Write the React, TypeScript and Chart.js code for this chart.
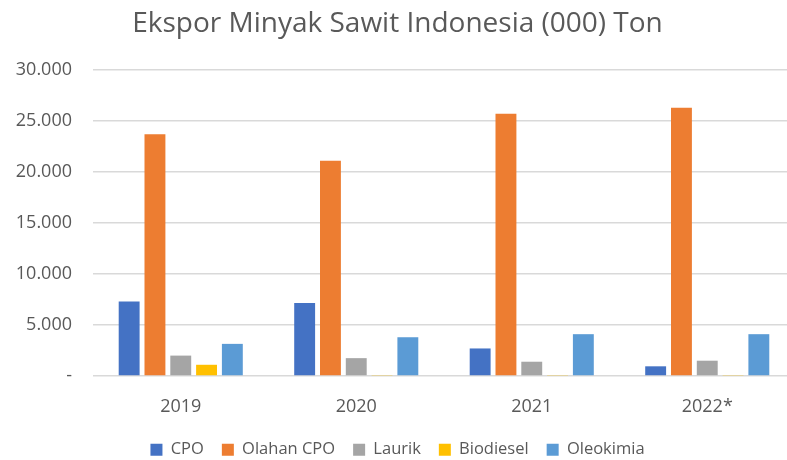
import React, { useEffect, useRef } from "react";
import { Chart, registerables } from "chart.js";

Chart.register(...registerables);

const categories = ["2019", "2020", "2021", "2022*"];
const cpo = [7300, 7150, 2700, 950];
const olahanCpo = [23700, 21100, 25700, 26300];
const laurik = [2000, 1750, 1400, 1500];
const biodiesel = [1100, 100, 100, 100];
const oleokimia = [3150, 3800, 4100, 4100];
const yTicks = [0, 5000, 10000, 15000, 20000, 25000, 30000];

const fmt = (v: number) => (v === 0 ? "-" : v.toLocaleString("de-DE"));

export default function App() {
  const ref = useRef<HTMLCanvasElement | null>(null);
  useEffect(() => {
    document.body.style.margin = "0";
    if (!ref.current) return;
    const font = "'Open Sans', 'Noto Sans', sans-serif";
    const chart = new Chart(ref.current, {
      type: "bar",
      data: {
        labels: categories,
        datasets: [
          { label: "CPO", data: cpo, backgroundColor: "#4472C4" },
          { label: "Olahan CPO", data: olahanCpo, backgroundColor: "#ED7D31" },
          { label: "Laurik", data: laurik, backgroundColor: "#A5A5A5" },
          { label: "Biodiesel", data: biodiesel, backgroundColor: "#FFC000" },
          { label: "Oleokimia", data: oleokimia, backgroundColor: "#5B9BD5" },
        ],
      },
      options: {
        animation: false,
        responsive: false,
        maintainAspectRatio: false,
        layout: { padding: 0 },
        datasets: { bar: { barPercentage: 0.81, categoryPercentage: 0.735 } },
        plugins: {
          title: {
            display: true,
            text: "Ekspor Minyak Sawit Indonesia (000) Ton",
            color: "#595959",
            font: { family: font, size: 28, weight: "normal" },
            padding: { top: 7, bottom: 29.4 },
          },
          legend: {
            position: "bottom",
            labels: {
              boxWidth: 12,
              boxHeight: 12,
              padding: 18,
              color: "#595959",
              font: { family: font, size: 16.5 },
            },
          },
          tooltip: { enabled: false },
        },
        scales: {
          x: {
            afterFit: (s: any) => {
              s.height = 47.5;
            },
            grid: { display: false },
            border: { display: false },
            ticks: { color: "#595959", font: { family: font, size: 18 }, padding: 12 },
          },
          y: {
            min: 0,
            max: 30000,
            afterFit: (s: any) => {
              s.width = 93;
            },
            afterBuildTicks: (s: any) => {
              s.ticks = yTicks.map((v) => ({ value: v }));
            },
            grid: { color: "#D9D9D9", drawTicks: false, lineWidth: 1.5 },
            border: { display: false },
            ticks: {
              color: "#595959",
              font: { family: font, size: 18 },
              padding: 21,
              callback: (v: any) => fmt(Number(v)),
            },
          },
        },
      },
    });
    return () => chart.destroy();
  }, []);
  return (
    <div style={{ position: "absolute", left: 0, top: 0, width: 787, height: 460, overflow: "hidden", background: "#fff" }}>
      <canvas ref={ref} width={795} height={468} style={{ display: "block" }} />
    </div>
  );
}
